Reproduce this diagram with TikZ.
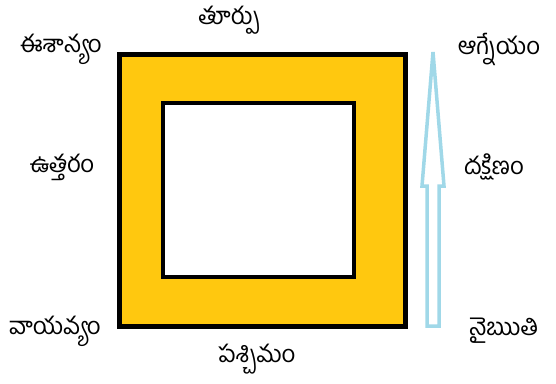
\documentclass[tikz,border=0pt]{standalone}
\usepackage{fontspec}
\newfontfamily\telugu[Script=Telugu]{Hind Guntur}
\definecolor{gold}{RGB}{255,200,15}
\definecolor{lblue}{RGB}{160,216,232}
\begin{document}
\begin{tikzpicture}[x=1pt,y=-1pt,
  lbl/.style={font=\telugu\fontsize{24}{26}\selectfont, inner sep=0pt}]
\useasboundingbox (0,0) rectangle (556,383);
\node[draw=black, line width=5pt, fill=gold, minimum width=286pt, minimum height=272pt, inner sep=0pt] (outer) at (262,190) {};
\node[draw=black, line width=4pt, fill=white, minimum width=191pt, minimum height=174pt, inner sep=0pt] (inner) at (258.5,190) {};
\draw[lblue, line width=3.5pt, line join=miter, fill=white]
  (433,52) -- (444,186) -- (439,186) -- (439,326) -- (427,326) -- (427,186) -- (422,186) -- cycle;
\node[lbl] (east) at (229,20) {తూర్పు};
\node[lbl] (ne) at (61,49) {ఈశాన్యం};
\node[lbl] (north) at (62,167) {ఉత్తరం};
\node[lbl] (nw) at (55,331) {వాయవ్యం};
\node[lbl] (west) at (257,359) {పశ్చిమం};
\node[lbl] (sw) at (504,331) {నైఋతి};
\node[lbl] (south) at (494,167) {దక్షిణం};
\node[lbl] (se) at (499,49) {ఆగ్నేయం};
\end{tikzpicture}
\end{document}
